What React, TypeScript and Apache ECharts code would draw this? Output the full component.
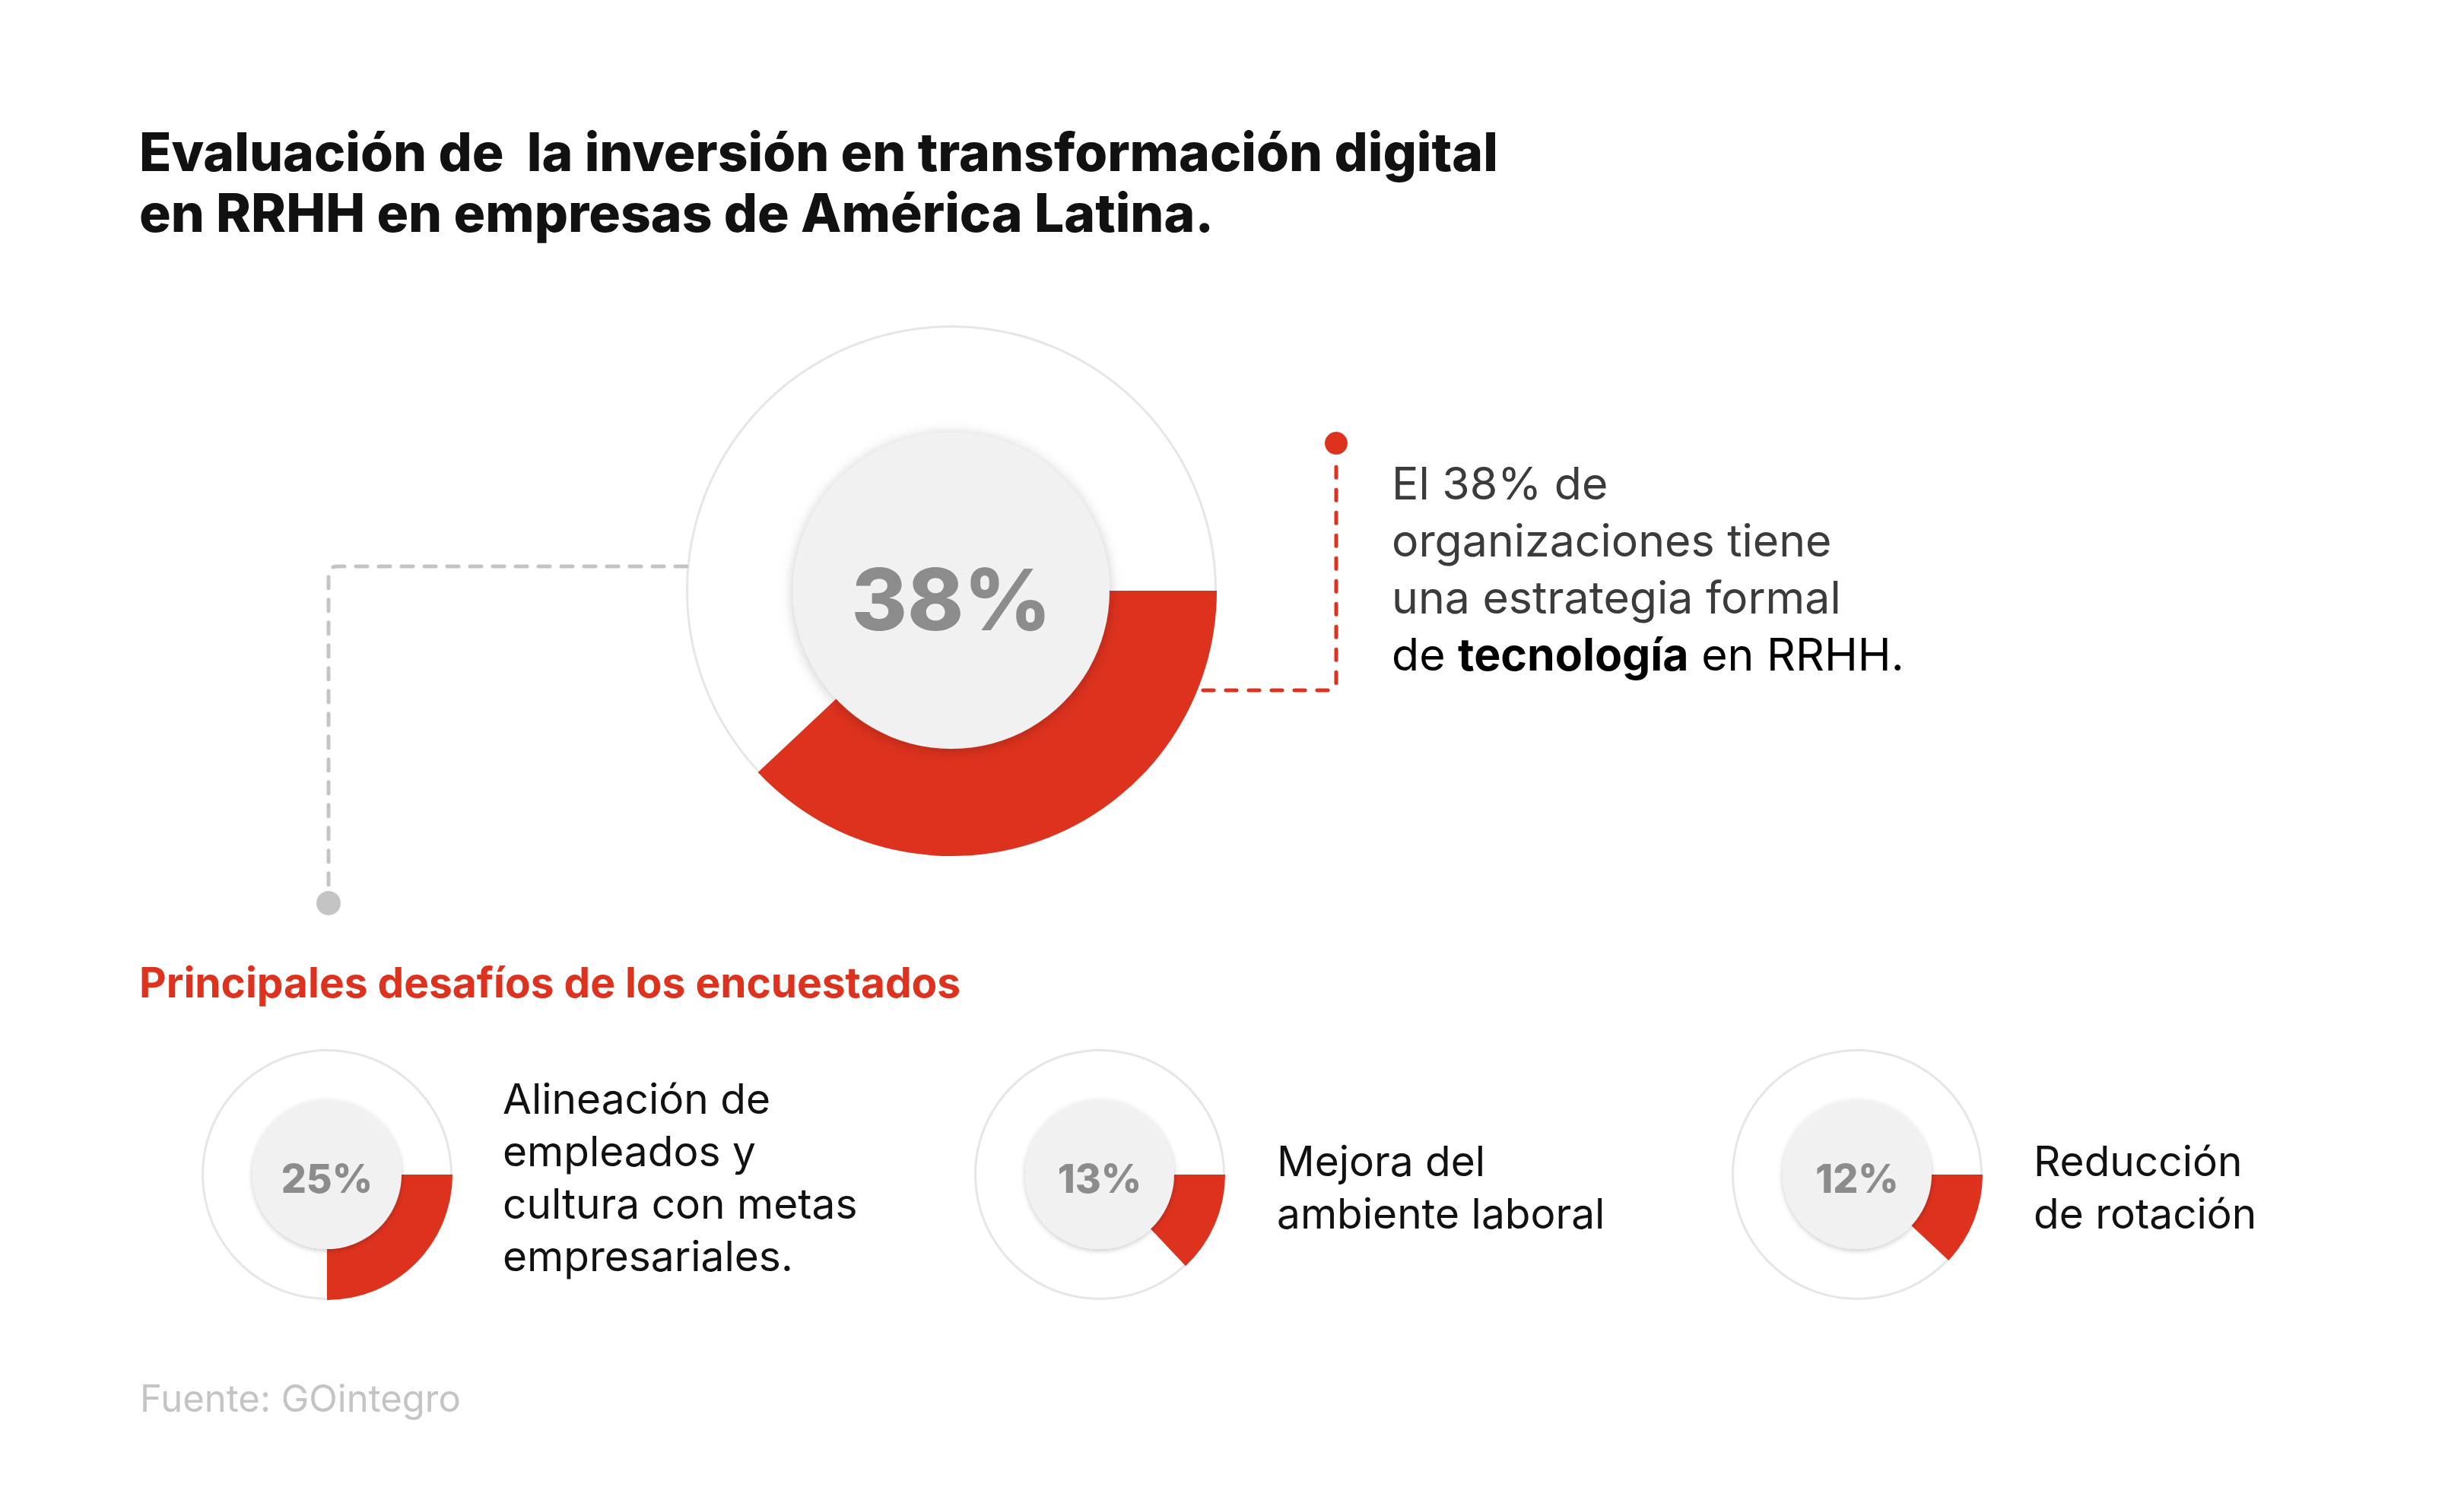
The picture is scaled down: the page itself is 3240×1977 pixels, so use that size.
import React, { useEffect, useRef } from "react";
import * as echarts from "echarts";

// ---------- data ----------
const titleLines = [
  "Evaluación de  la inversión en transformación digital",
  "en RRHH en empresas de América Latina.",
];
const mainValue = 38;
const mainNoteLines = ["El 38% de", "organizaciones tiene", "una estrategia formal"];
const mainNoteLast = ["de ", "tecnología", " en RRHH."];
const subtitle = "Principales desafíos de los encuestados";
const challengeValues = [25, 13, 12];
const challengeLabels = [
  ["Alineación de", "empleados y", "cultura con metas", "empresariales."],
  ["Mejora del", "ambiente laboral"],
  ["Reducción", "de rotación"],
];
const source = "Fuente: GOintegro";

// ---------- style ----------
const FONT = "Inter, 'Noto Sans', sans-serif";
const RED = "#dd321e";
const RING = "#e6e6e6";
const DISK = "#f1f1f1";
const PCT = "#8c8c8c";

echarts.graphic.registerShape(
  "connRed",
  echarts.graphic.extendPath("M1582 908 L1745 908 Q1757 908 1757 896 L1757 602", {})
);
echarts.graphic.registerShape(
  "connGray",
  echarts.graphic.extendPath("M903 745 L444 745 Q432 745 432 757 L432 1168", {})
);

function donut(
  center: [number, number],
  rIn: number,
  rOut: number,
  value: number,
  fontSize: number,
  z: number
) {
  const base = {
    type: "pie",
    center,
    silent: true,
    animation: false,
    startAngle: 0,
    clockwise: true,
    label: { show: false },
    labelLine: { show: false },
    emphasis: { disabled: true },
  };
  return [
    {
      ...base,
      z,
      radius: [rOut - 3, rOut],
      itemStyle: { color: RING, borderWidth: 0 },
      data: [{ value: 100, name: "ring" }],
    },
    {
      ...base,
      z: z + 1,
      radius: [rIn - 2, rOut],
      itemStyle: { borderWidth: 0 },
      data: [
        { value, name: "share", itemStyle: { color: RED } },
        { value: 100 - value, name: "rest", itemStyle: { color: "rgba(0,0,0,0)" } },
      ],
    },
    {
      ...base,
      z: z + 2,
      radius: [0, rIn],
      itemStyle: {
        color: DISK,
        borderWidth: 0,
        shadowBlur: rIn * 0.08,
        shadowColor: "rgba(0,0,0,0.22)",
        shadowOffsetY: 2,
      },
      label: {
        show: true,
        position: "center",
        formatter: "{c}%",
        fontFamily: FONT,
        fontWeight: 800,
        fontSize,
        color: PCT,
        offset: [0, fontSize * 0.1],
      },
      data: [{ value, name: "pct" }],
    },
  ];
}

function txt(x: number, y: number, text: string, fontSize: number, color: string, weight: any = "normal") {
  return {
    type: "text",
    x,
    y,
    silent: true,
    style: {
      text,
      fontFamily: FONT,
      fontSize,
      fontWeight: weight,
      fill: color,
      verticalAlign: "middle",
      align: "left",
    },
  };
}

export default function App() {
  const ref = useRef<HTMLDivElement>(null);

  useEffect(() => {
    document.body.style.margin = "0";
    const chart = echarts.init(ref.current!, undefined, { renderer: "svg" });

    const smallCenters: [number, number][] = [
      [430, 1545],
      [1446, 1545],
      [2442, 1545],
    ];
    const labelX = [661, 1679, 2674];

    const series: any[] = [...donut([1251, 777], 208, 349, mainValue, 112, 2)];
    challengeValues.forEach((v, i) => {
      series.push(...donut(smallCenters[i], 98, 165, v, 52, 2));
    });

    const graphics: any[] = [];
    // title
    titleLines.forEach((t, i) => graphics.push(txt(183, 200 + i * 80, t, 69.5, "#111111", 800)));
    // annotation
    mainNoteLines.forEach((t, i) => graphics.push(txt(1830, 635 + i * 75, t, 59, "#3b3b3b")));
    graphics.push({
      type: "text",
      x: 1830,
      y: 635 + 3 * 75,
      silent: true,
      style: {
        text: `{n|${mainNoteLast[0]}}{b|${mainNoteLast[1]}}{n|${mainNoteLast[2]}}`,
        verticalAlign: "middle",
        align: "left",
        rich: {
          n: { fontFamily: FONT, fontSize: 59, color: "#3b3b3b" },
          b: { fontFamily: FONT, fontSize: 59, fontWeight: "bold", color: "#3b3b3b" },
        },
      },
    });
    // connectors
    graphics.push({
      type: "connRed",
      silent: true,
      z: 10,
      style: { fill: "none", stroke: RED, lineWidth: 5, lineDash: [14, 16], lineCap: "round" },
    });
    graphics.push({ type: "circle", silent: true, z: 10, shape: { cx: 1757, cy: 583, r: 15 }, style: { fill: RED } });
    graphics.push({
      type: "connGray",
      silent: true,
      z: 10,
      style: { fill: "none", stroke: "#c4c4c4", lineWidth: 5, lineDash: [15, 15], lineCap: "round" },
    });
    graphics.push({ type: "circle", silent: true, z: 10, shape: { cx: 432, cy: 1188, r: 16 }, style: { fill: "#c4c4c4" } });
    // subtitle
    graphics.push(txt(183, 1292, subtitle, 55, RED, "bold"));
    // challenge labels
    const labelTops = [1445, 1527, 1527];
    challengeLabels.forEach((lines, i) => {
      lines.forEach((t, j) => graphics.push(txt(labelX[i], labelTops[i] + j * 69, t, 55, "#111111")));
    });
    // source
    graphics.push(txt(184, 1839, source, 49, "#c4c4c4"));

    chart.setOption({
      animation: false,
      backgroundColor: "#ffffff",
      series,
      graphic: { elements: graphics },
    });

    return () => chart.dispose();
  }, []);

  return <div ref={ref} style={{ width: 3240, height: 1977 }} />;
}
